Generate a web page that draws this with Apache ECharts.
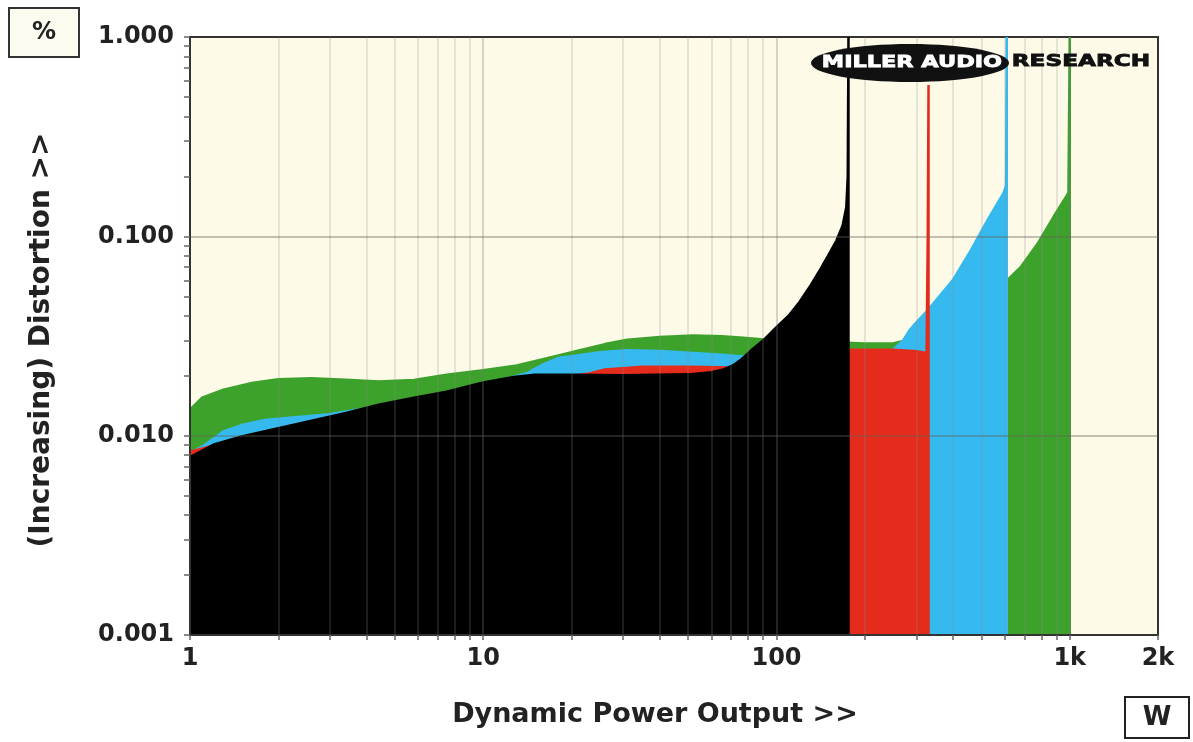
<!DOCTYPE html>
<html>
<head>
<meta charset="utf-8">
<script src="https://cdn.jsdelivr.net/npm/echarts@6/dist/echarts.min.js"></script>
<style>
html,body{margin:0;padding:0;background:#fff;}
#chart{width:1193px;height:742px;}
</style>
</head>
<body>
<div id="chart"></div>
<script>
// ---- Data (power in W, distortion in %) ----
const greenData = [
  [1, 0.0135], [1.1, 0.0155], [1.3, 0.017], [1.6, 0.0183], [2, 0.0192], [2.6, 0.0194],
  [3.4, 0.0191], [4.4, 0.0187], [5.8, 0.019], [7.5, 0.0202], [10, 0.0213], [13, 0.0225],
  [16.5, 0.0245], [21, 0.0267], [26, 0.0288], [31, 0.0303], [40, 0.0313], [52, 0.0318],
  [65, 0.0315], [77, 0.031], [100, 0.030], [150, 0.0295], [200, 0.029], [250, 0.029],
  [300, 0.031], [400, 0.04], [500, 0.05], [610, 0.06], [680, 0.07], [780, 0.0926],
  [880, 0.125], [990, 0.165], [1000, 1.0], [1000, 0.001]
];
const cyanData = [
  [1, 0.0082], [1.1, 0.0088], [1.3, 0.0105], [1.5, 0.0113], [1.8, 0.012], [2.5, 0.0125],
  [3, 0.0128], [5, 0.0145], [10, 0.018], [14, 0.0205], [16, 0.0228], [18, 0.0245],
  [20, 0.025], [25, 0.0262], [31, 0.0268], [40, 0.0266], [52, 0.026], [65, 0.0255],
  [75, 0.025], [100, 0.025], [150, 0.026], [200, 0.026], [250, 0.027], [270, 0.03],
  [285, 0.034], [300, 0.037], [330, 0.043], [400, 0.0605], [460, 0.085], [525, 0.121],
  [595, 0.165], [607, 0.18], [610, 1.0], [610, 0.001]
];
const redData = [
  [1, 0.0083], [1.5, 0.0097], [2, 0.0107], [3, 0.012], [5, 0.014], [10, 0.018],
  [15, 0.0195], [20, 0.020], [23, 0.0205], [26, 0.0215], [35, 0.0222], [50, 0.0222],
  [71, 0.022], [100, 0.024], [150, 0.026], [176, 0.027], [200, 0.027], [250, 0.027],
  [300, 0.0265], [325, 0.026], [328, 0.1], [330, 0.575], [330, 0.001]
];
const blackData = [
  [1, 0.0078], [1.2, 0.009], [1.5, 0.0099], [2, 0.0109], [2.6, 0.0119], [3.4, 0.013],
  [4.4, 0.0143], [5.8, 0.0155], [7.5, 0.0166], [10, 0.0185], [12.7, 0.0197], [15, 0.0202],
  [20, 0.0202], [30, 0.0201], [50, 0.0203], [60, 0.0208], [66, 0.0215], [71, 0.0225],
  [76, 0.0242], [82, 0.0268], [90, 0.030], [100, 0.035], [110, 0.040], [120, 0.047],
  [130, 0.056], [140, 0.067], [150, 0.080], [160, 0.095], [168, 0.113], [173, 0.14],
  [175, 0.2], [176, 1.0], [176, 0.001]
];

// ---- Axis ticks / labels ----
const xLabelValues = [1, 10, 100, 1000, 2000];
const xTickValues = [1,2,3,4,5,6,7,8,9,10,20,30,40,50,60,70,80,90,100,200,300,400,500,600,700,800,900,1000,2000];
const yLabelValues = [0.001, 0.01, 0.1, 1];
const yTickValues = [0.001,0.002,0.003,0.004,0.005,0.006,0.007,0.008,0.009,0.01,0.02,0.03,0.04,0.05,0.06,0.07,0.08,0.09,0.1,0.2,0.3,0.4,0.5,0.6,0.7,0.8,0.9,1];
const xMinorGrid = [2,3,4,5,6,7,8,9,20,30,40,50,60,70,80,90,200,300,400,500,600,700,800,900];
const xMajorGrid = [10, 100, 1000];
const yMajorGrid = [0.01, 0.1];

const FONT = 'DejaVu Sans';
const chart = echarts.init(document.getElementById('chart'), null, {renderer: 'canvas'});

const gridLines = []
  .concat(xMinorGrid.map(v => ({xAxis: v, lineStyle: {color: 'rgba(140,140,140,0.28)', width: 1.5, type: 'solid'}})))
  .concat(xMajorGrid.map(v => ({xAxis: v, lineStyle: {color: 'rgba(120,120,120,0.4)', width: 1.5, type: 'solid'}})))
  .concat(yMajorGrid.map(v => ({yAxis: v, lineStyle: {color: 'rgba(100,95,85,0.5)', width: 1.5, type: 'solid'}})));

function area(name, data, color, z) {
  return {
    name, type: 'line', data, showSymbol: false, symbol: 'none', z,
    lineStyle: {color, width: 2.5},
    areaStyle: {color, opacity: 1, origin: 'start'},
    silent: true, animation: false
  };
}

chart.setOption({
  animation: false,
  backgroundColor: '#ffffff',
  grid: {
    left: 190, right: 35, top: 37, bottom: 107,
    show: true, backgroundColor: '#fdfae8', borderColor: '#333', borderWidth: 2
  },
  xAxis: {
    type: 'log', logBase: 10, min: 1, max: 2000, z: 20,
    axisLine: {show: true, onZero: false, lineStyle: {color: '#333', width: 2}},
    axisTick: {show: true, customValues: xTickValues, length: 5, lineStyle: {color: '#666', width: 1.5}},
    axisLabel: {
      customValues: xLabelValues, margin: 12, color: '#222',
      fontFamily: FONT, fontWeight: 'bold', fontSize: 24,
      formatter: v => (v >= 1000 ? (Math.round(v / 1000) + 'k') : String(Math.round(v)))
    },
    splitLine: {show: false}, minorTick: {show: false}
  },
  yAxis: {
    type: 'log', logBase: 10, min: 0.001, max: 1, z: 20,
    axisLine: {show: true, onZero: false, lineStyle: {color: '#333', width: 2}},
    axisTick: {show: true, customValues: yTickValues, length: 6, lineStyle: {color: '#666', width: 1.5}},
    axisLabel: {
      customValues: yLabelValues, margin: 16, color: '#222',
      fontFamily: FONT, fontWeight: 'bold', fontSize: 24,
      formatter: v => Number(v).toFixed(3)
    },
    splitLine: {show: false}
  },
  series: [
    area('green', greenData, '#3da22c', 1),
    area('cyan', cyanData, '#36b9ee', 2),
    area('red', redData, '#e52c1c', 3),
    area('black', blackData, '#000000', 4),
    {
      name: 'grid', type: 'line', data: [[1, 0.001]], showSymbol: false, symbol: 'none',
      lineStyle: {width: 0}, z: 10, silent: true,
      markLine: {z: 10, silent: true, symbol: 'none', label: {show: false}, animation: false, data: gridLines}
    }
  ],
  graphic: [
    {type: 'rect', shape: {x: 9, y: 8, width: 70, height: 49}, style: {fill: '#fbfbf0', stroke: '#333', lineWidth: 2}},
    {type: 'text', x: 44, y: 33, style: {text: '%', fill: '#222', font: 'bold 24px "DejaVu Sans"', align: 'center', verticalAlign: 'middle'}},
    {type: 'rect', shape: {x: 1125, y: 697, width: 64, height: 41}, style: {fill: '#ffffff', stroke: '#222', lineWidth: 2}},
    {type: 'text', x: 1157, y: 718, style: {text: 'W', fill: '#222', font: 'bold 26px "DejaVu Sans"', align: 'center', verticalAlign: 'middle'}},
    {type: 'text', x: 655, y: 715, style: {text: 'Dynamic Power Output >>', fill: '#222', font: 'bold 27px "DejaVu Sans"', align: 'center', verticalAlign: 'middle'}},
    {type: 'text', x: 42, y: 340, rotation: Math.PI / 2, style: {text: '(Increasing) Distortion >>', fill: '#222', font: 'bold 28px "DejaVu Sans"', align: 'center', verticalAlign: 'middle'}},
    {type: 'ellipse', z: 100, shape: {cx: 910, cy: 63, rx: 99, ry: 19}, style: {fill: '#111'}},
    {type: 'text', z: 101, x: 912, y: 63, scaleX: 1.4, style: {text: 'MILLER AUDIO', fill: '#fff', stroke: '#fff', lineWidth: 0.8, font: 'bold 16px "DejaVu Sans"', align: 'center', verticalAlign: 'middle'}},
    {type: 'text', z: 101, x: 1081, y: 62, scaleX: 1.45, style: {text: 'RESEARCH', fill: '#111', stroke: '#111', lineWidth: 0.8, font: 'bold 16px "DejaVu Sans"', align: 'center', verticalAlign: 'middle'}}
  ]
});
</script>
</body>
</html>
